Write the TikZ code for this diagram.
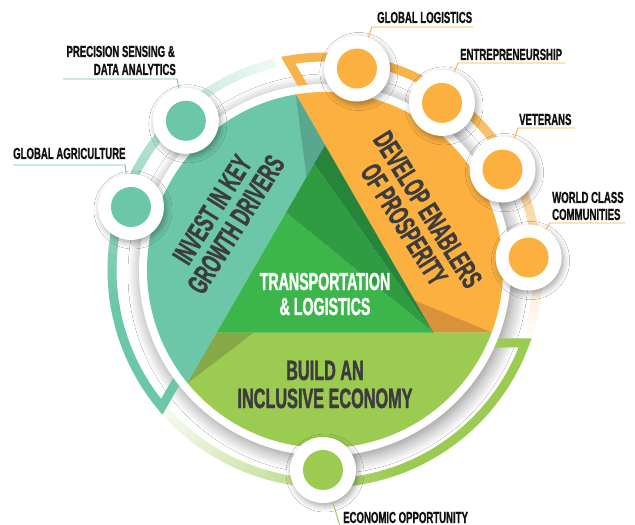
\documentclass[tikz,border=0pt]{standalone}
\usepackage{fontspec}
\newfontfamily\bn[FakeStretch=0.58,FakeBold=1.3]{Liberation Sans Bold}
\newfontfamily\bnl[FakeStretch=0.6,FakeBold=0.8]{Liberation Sans Bold}
\usetikzlibrary{calc,shadows.blur}
\definecolor{tealC}{HTML}{6CC6A8}
\definecolor{tealD}{HTML}{58A88F}
\definecolor{orangeC}{HTML}{FBB040}
\definecolor{orangeR}{HTML}{F7B34C}
\definecolor{orangeD}{HTML}{D8933A}
\definecolor{limeC}{HTML}{9CCB52}
\definecolor{limeD}{HTML}{86A847}
\definecolor{greenL}{HTML}{3CB54A}
\definecolor{greenM}{HTML}{2F9C42}
\definecolor{greenD}{HTML}{26853A}
\definecolor{txtD}{HTML}{3C3C3C}
\definecolor{lblC}{HTML}{111111}
\begin{document}
\begin{tikzpicture}[x=1pt,y=1pt,
  bigc/.style={circle, fill=white, minimum size=66pt, inner sep=0pt,
    blur shadow={shadow xshift=2pt, shadow yshift=-3pt, shadow blur radius=6pt, shadow opacity=35}},
  innerc/.style={circle, minimum size=40pt, inner sep=0pt},
  lbl/.style={font=\bnl\fontsize{16}{18}\selectfont, text=lblC, inner sep=0pt},
  bigtxt/.style={font=\bn\fontsize{29}{28}\selectfont, text=txtD, align=center, inner sep=0pt},
  midtxt/.style={font=\bn\fontsize{28}{28}\selectfont, text=txtD, inner sep=0pt},
  cntxt/.style={font=\bn\fontsize{24.5}{25}\selectfont, text=white, inner sep=0pt},
  ringw/.style={line width=9pt},
  leader/.style={line width=0.9pt}]
\useasboundingbox (-325,-255) rectangle (310,270);
\fill[white] (-325,-255) rectangle (310,270);

% geometry
\coordinate (V1) at (90:125);
\coordinate (V2) at (210:125);
\coordinate (V3) at (330:125);
\coordinate (P1) at (99.45:178);
\coordinate (P3) at (339.45:178);
\coordinate (P5) at (219.45:178);

% disc shadow
\path[blur shadow={shadow xshift=3pt, shadow yshift=-4pt, shadow blur radius=14pt, shadow opacity=45, shadow blur steps=14}] (0,0) circle (186);

% teal ring
\draw[ringw, tealC, line join=miter] (216.07:180) -- (219.96:213) arc[start angle=219.96, end angle=189.5, radius=213];
\foreach \i in {0,...,42} {
  \pgfmathsetmacro\aS{190-2*\i}
  \pgfmathsetmacro\aE{\aS-2.4}
  \pgfmathsetmacro\p{100-88*\i/42}
  \draw[ringw, color=tealC!\p!white] (\aS:213) arc[start angle=\aS, end angle=\aE, radius=213];
}
% orange ring
\draw[ringw, orangeR, line join=miter] (96.07:180) -- (99.96:213) arc[start angle=99.96, end angle=54.5, radius=213];
\foreach \i in {0,...,35} {
  \pgfmathsetmacro\aS{55-2*\i}
  \pgfmathsetmacro\aE{\aS-2.4}
  \pgfmathsetmacro\p{100-94*\i/35}
  \draw[ringw, color=orangeR!\p!white] (\aS:213) arc[start angle=\aS, end angle=\aE, radius=213];
}
% green ring
\draw[ringw, limeC, line join=miter] (336.07:180) -- (339.96:213) arc[start angle=339.96, end angle=289.5, radius=213];
\foreach \i in {0,...,33} {
  \pgfmathsetmacro\aS{290-2*\i}
  \pgfmathsetmacro\aE{\aS-2.4}
  \pgfmathsetmacro\p{100-90*\i/33}
  \draw[ringw, color=limeC!\p!white] (\aS:213) arc[start angle=\aS, end angle=\aE, radius=213];
}

% white border disc
\fill[white] (0,0) circle (186);

% sectors
\fill[orangeC] (P1) -- (V3) -- (P3) arc[start angle=-20.55, end angle=99.45, radius=178] -- cycle;
\fill[limeC] (P3) -- (V2) -- (P5) arc[start angle=219.45, end angle=339.45, radius=178] -- cycle;
\fill[tealC] (P5) -- (V1) -- (P1) arc[start angle=99.45, end angle=219.45, radius=178] -- cycle;
% fold shading
\fill[tealD] (P1) -- (V1) -- ($(V1)!0.171!(V2)$) -- cycle;
\fill[orangeD] (P3) -- (V3) -- ($(V3)!0.171!(V1)$) -- cycle;
\fill[limeD] (P5) -- (V2) -- ($(V2)!0.171!(V3)$) -- cycle;
% center triangle
\coordinate (Q1) at ($(V1)!0.10!(V2)$);
\coordinate (Q2) at ($(V1)!0.36!(V2)$);
\fill[greenL] (V3) -- (Q2) -- (V2) -- cycle;
\fill[greenM] (V3) -- (Q1) -- (Q2) -- cycle;
\fill[greenD] (V3) -- (V1) -- (Q1) -- cycle;

% sector texts
\node[bigtxt, rotate=58] (tinv) at (-101,53) {INVEST IN KEY\\GROWTH DRIVERS};
\node[bigtxt, rotate=-58] (tdev) at (91,53) {DEVELOP ENABLERS\\OF PROSPERITY};
\node[midtxt, anchor=base] (tb1) at (0,-110) {BUILD AN};
\node[midtxt, anchor=base] (tb2) at (0,-138) {INCLUSIVE ECONOMY};
\node[cntxt, anchor=base] (tt1) at (0,-20) {TRANSPORTATION};
\node[cntxt, anchor=base] (tt2) at (0,-45) {\& LOGISTICS};

% circles
\node[bigc] (ga) at (162:204) {};
\node[innerc, fill=tealC] (gain) at (ga) {};
\node[bigc] (ps) at (133:204) {};
\node[innerc, fill=tealC] (psin) at (ps) {};
\node[bigc] (gl) at (81:204) {};
\node[innerc, fill=orangeC] (glin) at (gl) {};
\node[bigc] (en) at (55:204) {};
\node[innerc, fill=orangeC] (enin) at (en) {};
\node[bigc] (ve) at (29.5:204) {};
\node[innerc, fill=orangeC] (vein) at (ve) {};
\node[bigc] (wc) at (3.5:204) {};
\node[innerc, fill=orangeC] (wcin) at (wc) {};
\node[bigc] (eo) at (-2,-200) {};
\node[innerc, fill=limeC] (eoin) at (eo) {};

% labels
\node[lbl, anchor=base west] (lga) at (-312,111) {GLOBAL AGRICULTURE};
\coordinate (uga1) at (-312,105);
\coordinate (uga2) at (-200,105);
\draw[leader, tealC] (uga1) -- (uga2) -- (ga);

\node[lbl, anchor=base east] (lps1) at (-150,213) {PRECISION SENSING \&};
\node[lbl, anchor=base east] (lps2) at (-149,195) {DATA ANALYTICS};
\coordinate (ups1) at (-262,191);
\coordinate (ups2) at (-148,191);
\draw[leader, tealC] (ups1) -- (ups2) -- (ps);

\node[lbl, anchor=base west] (lgl) at (52,247) {GLOBAL LOGISTICS};
\coordinate (ugl1) at (148,243);
\coordinate (ugl2) at (47,243);
\draw[leader, orangeC] (ugl1) -- (ugl2) -- (gl);

\node[lbl, anchor=base west] (len) at (135,210) {ENTREPRENEURSHIP};
\coordinate (uen1) at (240,207);
\coordinate (uen2) at (133,207);
\draw[leader, orangeC] (uen1) -- (uen2) -- (en);

\node[lbl, anchor=base west] (lve) at (194,145) {VETERANS};
\coordinate (uve1) at (250,142);
\coordinate (uve2) at (193,142);
\draw[leader, orangeC] (uve1) -- (uve2) -- (ve);

\node[lbl, anchor=base west] (lwc1) at (227,67) {WORLD CLASS};
\node[lbl, anchor=base west] (lwc2) at (227,50) {COMMUNITIES};
\coordinate (uwc1) at (300,47);
\coordinate (uwc2) at (225,47);
\draw[leader, orangeC] (uwc1) -- (uwc2) -- (wc);

\node[lbl, anchor=base west] (leo) at (18,-253) {ECONOMIC OPPORTUNITY};
\coordinate (ueo) at (15,-256);
\draw[leader, limeC] (eo) -- (ueo);
\end{tikzpicture}
\end{document}
